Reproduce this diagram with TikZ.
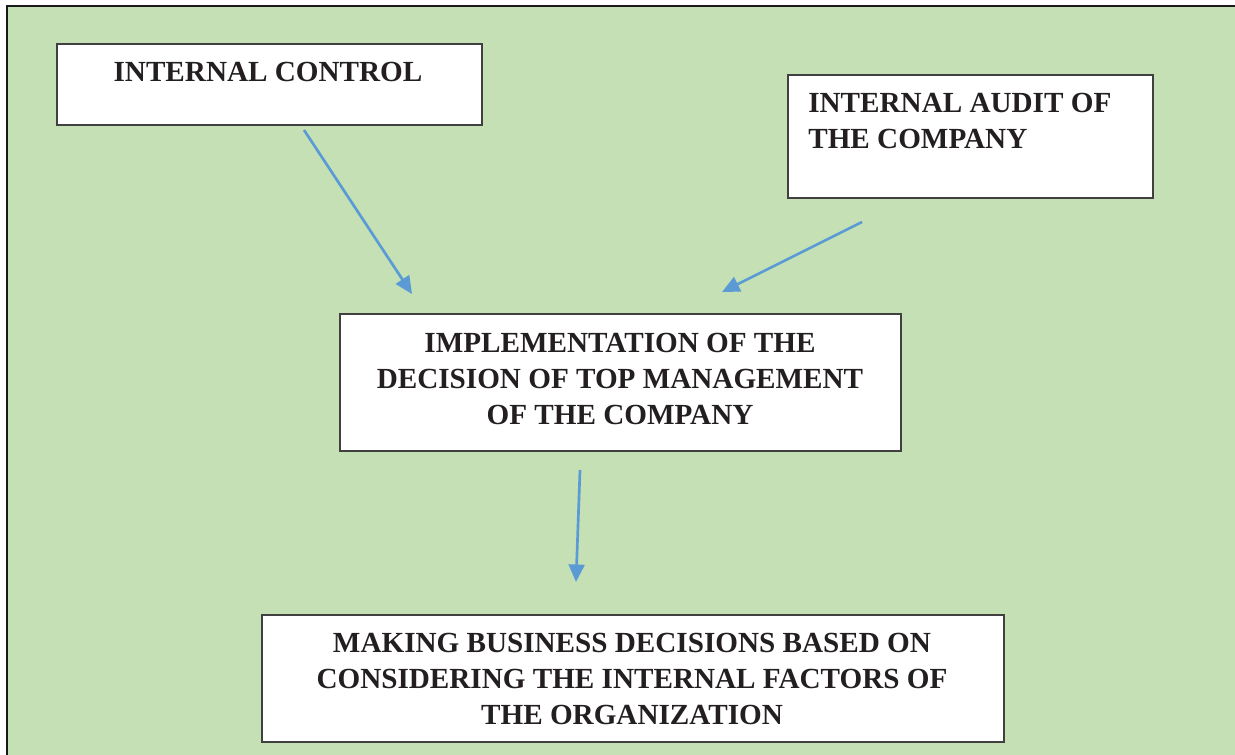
\documentclass[tikz,border=0pt]{standalone}
\usepackage{fontspec}
\setmainfont{Liberation Serif}
\usetikzlibrary{arrows.meta,fit}
\definecolor{bggreen}{HTML}{C5E0B4}
\definecolor{arrowblue}{HTML}{5B9BD5}
\definecolor{boxline}{HTML}{404040}
\definecolor{txt}{HTML}{231F20}
\begin{document}
\begin{tikzpicture}[x=0.6pt,y=-0.6pt,
  box/.style={draw=boxline,line width=0.9pt,fill=white,inner sep=0pt},
  label/.style={inner sep=0pt,text=txt,font=\fontsize{17.5}{21.6}\selectfont\bfseries},
  link/.style={draw=arrowblue,line width=1.6pt,-{Triangle[length=10.5pt,width=9.5pt]}}]
\useasboundingbox (0,0) rectangle (1235,755);
\fill[white] (0,0) rectangle (1235,755);
\fill[bggreen] (7,6) rectangle (1235,755);
\draw[black!90,line width=1.2pt] (7,755) -- (7,5.7) -- (1235,5.7);
% boxes
\node[box,fit={(57,44)(482,125)}] (b1) {};
\node[box,fit={(788,75)(1153,198)}] (b2) {};
\node[box,fit={(340,314)(901,451)}] (b3) {};
\node[box,fit={(262,615)(1004,742)}] (b4) {};
% texts
\node[label,anchor=north] (t1) at (268,61.5) {INTERNAL CONTROL};
\node[label,anchor=north west,align=left] (t2) at (808,92.5) {INTERNAL AUDIT OF\\THE COMPANY};
\node[label,anchor=north,align=center] (t3) at (620,333) {IMPLEMENTATION OF THE\\DECISION OF TOP MANAGEMENT\\OF THE COMPANY};
\node[label,anchor=north,align=center] (t4) at (632,633) {MAKING BUSINESS DECISIONS BASED ON\\CONSIDERING THE INTERNAL FACTORS OF\\THE ORGANIZATION};
% connectors
\coordinate (a1s) at (304,130);
\coordinate (a1e) at (412,294);
\coordinate (a2s) at (862,222);
\coordinate (a2e) at (722,292);
\coordinate (a3s) at (580,470);
\coordinate (a3e) at (576,582);
\draw[link] (a1s) -- (a1e);
\draw[link] (a2s) -- (a2e);
\draw[link] (a3s) -- (a3e);
\end{tikzpicture}
\end{document}
